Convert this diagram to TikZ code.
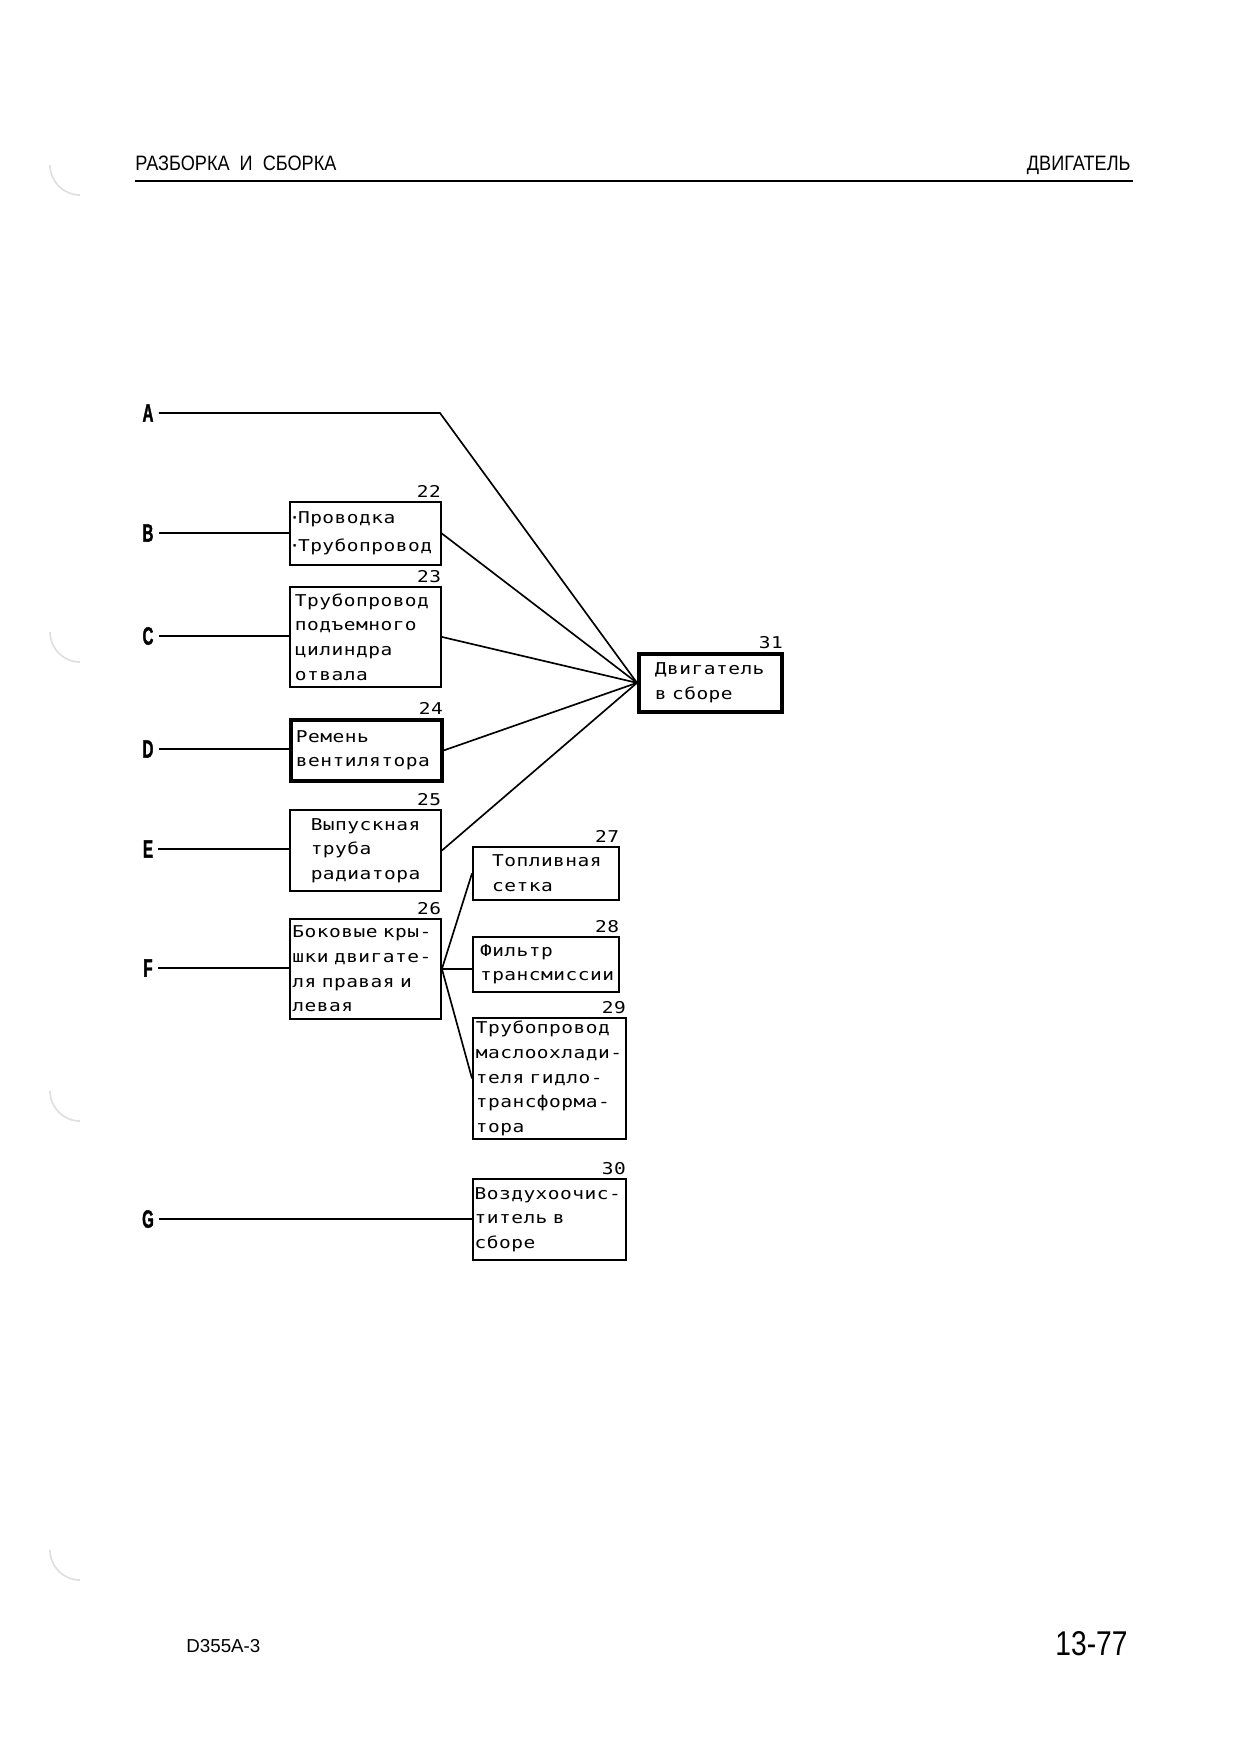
\documentclass[tikz,border=0pt]{standalone}
\usepackage{fontspec}
\setmainfont{Liberation Sans}
\newfontfamily\boxfont[FakeStretch=1.2,LetterSpace=3]{DejaVu Sans Mono}
\newfontfamily\hdrfont[FakeStretch=0.87]{Liberation Sans}
\newfontfamily\rowfont[FakeStretch=0.6,FakeBold=1.5]{Liberation Sans}
\newfontfamily\pagefont[FakeStretch=0.82]{Liberation Sans}
\newcommand{\boxtext}{\boxfont\fontsize{7.8pt}{11.8pt}\selectfont}
\newcommand{\rowtext}{\rowfont\bfseries\fontsize{12pt}{14pt}\selectfont}

\tikzset{
  box/.style={draw,line width=0.9pt,anchor=north west,align=left,inner ysep=0pt,font=\boxtext},
  heavy/.style={box,line width=1.8pt},
  num/.style={anchor=south east,inner xsep=0.2pt,inner ysep=1.3pt,font=\boxtext},
  rowlbl/.style={inner sep=2.4pt,font=\rowtext},
  link/.style={line width=0.8pt}
}

\begin{document}
\begin{tikzpicture}[x=0.48pt,y=-0.48pt]
\useasboundingbox (0,0) rectangle (1240,1755);
%punch hole shadows
\foreach \y in {165,632,1091,1550}
\draw[gray!25,line width=0.8pt] (50,\y) arc[start angle=180,end angle=90,radius=30];
%header and footer
\node[anchor=base west,inner sep=0pt,font=\hdrfont\fontsize{10pt}{12pt}\selectfont] (hdrL) at (135,170) {РАЗБОРКА\ \ И\ \ СБОРКА};
\node[anchor=base east,inner sep=0pt,font=\hdrfont\fontsize{10pt}{12pt}\selectfont] (hdrR) at (1131,170) {ДВИГАТЕЛЬ};
\draw[line width=1.2pt] (135,181) -- (1133,181);
\node[anchor=base west,inner sep=0pt,font=\fontsize{9pt}{11pt}\selectfont] (doc) at (186,1652) {D355A-3};
\node[anchor=base east,inner sep=0pt,font=\pagefont\fontsize{16.5pt}{18pt}\selectfont] (page) at (1128,1655) {13-77};
%draw boxes
\node[box,minimum height=30.2pt,text width=71pt,inner xsep=0.7pt,font=\boxfont\fontsize{7.8pt}{13.2pt}\selectfont] (b22) at (289,501)
  {\makebox[3.2pt][c]{·}Проводка\\\makebox[3.2pt][c]{·}Трубопровод};
\node[box,minimum height=48pt,text width=67.7pt,inner xsep=2.4pt] (b23) at (289,586)
  {Трубопровод\\подъемного\\цилиндра\\отвала};
\node[heavy,minimum height=29.3pt,text width=67.7pt,inner xsep=2.4pt] (b24) at (289,718)
  {Ремень\\вентилятора};
\node[box,minimum height=38.9pt,text width=52.5pt,inner xsep=10pt] (b25) at (289,809)
  {Выпускная\\труба\\радиатора};
\node[box,minimum height=48pt,text width=70.1pt,inner xsep=1.2pt] (b26) at (289,918)
  {Боковые кры-\\шки двигате-\\ля правая и\\левая};
\node[box,minimum height=25.4pt,text width=51.7pt,inner xsep=9.2pt] (b27) at (472,846)
  {Топливная\\сетка};
\node[box,minimum height=26.4pt,text width=63.3pt,inner xsep=3.4pt] (b28) at (472,936)
  {Фильтр\\трансмиссии};
\node[box,minimum height=58.1pt,text width=70.6pt,inner xsep=1.4pt] (b29) at (472,1017)
  {Трубопровод\\маслоохлади-\\теля гидло-\\трансформа-\\тора};
\node[box,minimum height=38.9pt,text width=71.8pt,inner xsep=0.8pt] (b30) at (472,1178)
  {Воздухоочис-\\титель в\\сборе};
\node[heavy,minimum height=27.8pt,text width=53.2pt,inner xsep=7.7pt] (b31) at (637,652)
  {Двигатель\\в сборе};
%item numbers
\foreach \b/\n in {b22/22,b23/23,b24/24,b25/25,b26/26,b27/27,b28/28,b29/29,b30/30,b31/31}
\node[num] (n\n) at (\b.north east) {\n};
%row letters
\node[rowlbl] (A) at (148,413) {A};
\node[rowlbl] (B) at (148,533) {B};
\node[rowlbl] (C) at (148,636) {C};
\node[rowlbl] (D) at (148,749) {D};
\node[rowlbl] (E) at (148,849) {E};
\node[rowlbl] (F) at (148,968) {F};
\node[rowlbl] (G) at (148,1219) {G};
\coordinate (Abend) at (440,413);
% draw connectors
\draw[link] (A) -- (Abend) -- (b31.west);
\foreach \r/\b in {B/b22,C/b23,D/b24,E/b25,F/b26,G/b30}
\draw[link] (\r) -- (\r -| \b.west);
\foreach \b in {b22,b23,b24,b25}
\draw[link] (\b.east) -- (b31.west);
\draw[link] (b26.east) -- (b27.west);
\draw[link] (b26.east) -- (b26.east -| b28.west);
\draw[link] (b26.east) -- (b29.west);
\end{tikzpicture}
\end{document}
